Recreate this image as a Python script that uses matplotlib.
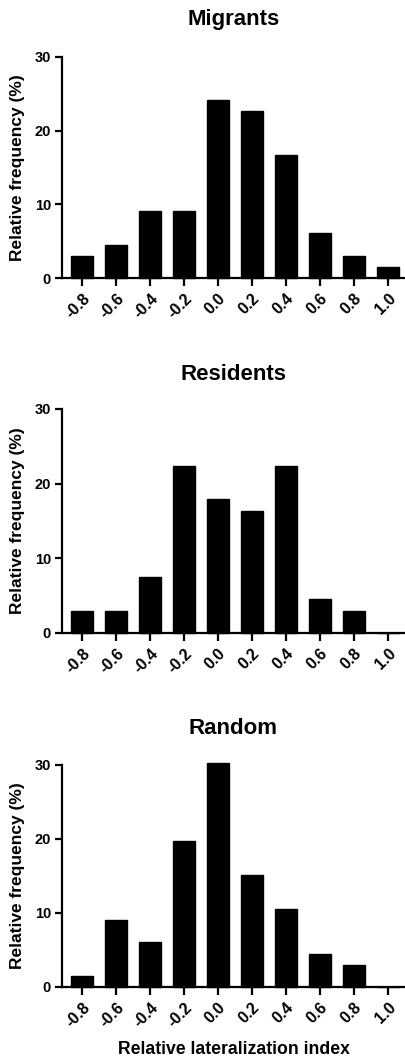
import numpy as np
import matplotlib
matplotlib.use("Agg")
import matplotlib.pyplot as plt

plt.rcParams["font.family"] = ["Liberation Sans", "DejaVu Sans"]
plt.rcParams["font.weight"] = "bold"

bins = [-0.8, -0.6, -0.4, -0.2, 0.0, 0.2, 0.4, 0.6, 0.8, 1.0]
tick_labels = ["-0.8", "-0.6", "-0.4", "-0.2", "0.0", "0.2", "0.4", "0.6", "0.8", "1.0"]

migrants = [3.0, 4.5, 9.1, 9.1, 24.2, 22.7, 16.7, 6.1, 3.0, 1.5]
residents = [3.0, 3.0, 7.5, 22.4, 17.9, 16.4, 22.4, 4.5, 3.0, 0.0]
random_ = [1.5, 9.1, 6.1, 19.7, 30.3, 15.2, 10.6, 4.5, 3.0, 0.0]

panels = [("Migrants", migrants), ("Residents", residents), ("Random", random_)]

fig = plt.figure(figsize=(4.06, 10.61), dpi=100)
W, H = 406.0, 1061.0
# (axes top px, axes bottom px) for each panel
rows = [(57, 278), (409, 633), (765, 987)]
title_pads = [23, 21, 22]

for i, ((title, vals), (top, bot)) in enumerate(zip(panels, rows)):
    ax = fig.add_axes([62 / W, (H - bot) / H, (405 - 62) / W, (bot - top) / H])
    ax.bar(bins, vals, width=0.13, color="black", edgecolor="black", clip_on=False)
    ax.set_xlim(-0.918, 1.1)
    ax.set_ylim(0, 30)
    ax.set_yticks([0, 10, 20, 30])
    ax.set_xticks(bins)
    ax.set_xticklabels(tick_labels, rotation=45, ha="right", rotation_mode="anchor")
    for s in ("top", "right"):
        ax.spines[s].set_visible(False)
    for s in ("left", "bottom"):
        ax.spines[s].set_linewidth(1.6)
    ax.tick_params(axis="y", direction="out", length=5, width=1.6,
                   labelsize=10.5, pad=3)
    ax.tick_params(axis="x", direction="out", length=6, width=1.6,
                   labelsize=11.5, pad=3)
    for lab in ax.get_xticklabels() + ax.get_yticklabels():
        lab.set_fontweight("bold")
    ax.set_ylabel("Relative frequency (%)", fontsize=12.5, fontweight="bold", labelpad=7)
    ax.set_title(title, fontsize=16, fontweight="bold", pad=title_pads[i])
    if i == 2:
        ax.set_xlabel("Relative lateralization index", fontsize=12.7,
                      fontweight="bold", labelpad=8)

fig.savefig("out.png", dpi=100)
